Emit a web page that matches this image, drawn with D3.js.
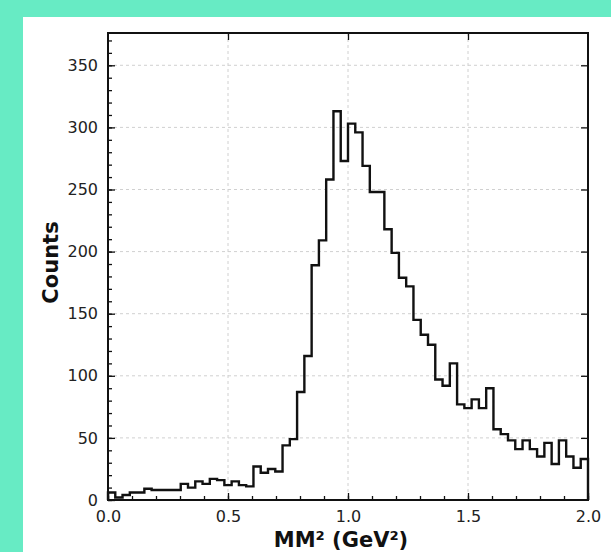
<!DOCTYPE html>
<html><head><meta charset="utf-8">
<script src="https://cdn.jsdelivr.net/npm/d3@7"></script>
<style>html,body{margin:0;padding:0;background:#67EBC4;} svg{display:block}</style>
</head><body>
<svg id="c" width="611" height="552"></svg>
<script>
// Histogram counts per bin (66 equal bins from 0 to 2 GeV^2)
const counts = [6,2,4,6,6,9,8,8,8,8,13,10,15,13,17,16,12,15,12,11,
                27,22,25,23,44,49,87,116,189,209,258,313,273,303,296,269,248,248,218,199,
                179,172,145,133,125,97,92,110,77,74,81,74,90,57,53,48,41,48,41,35,
                46,29,48,35,26,33];
const xDomain = [0, 2];
const yDomain = [0, 376];
const binCount = 66;
const xTicks = [0, 0.5, 1.0, 1.5, 2.0];
const xMinorTicks = d3.range(0, 21).map(i => i / 10);
const yTicks = [0, 50, 100, 150, 200, 250, 300, 350];
const yMinorTicks = d3.range(0, 371, 10);
const xLabel = "MM\u00B2 (GeV\u00B2)";
const yLabel = "Counts";

const svg = d3.select("#c");
// white panel
svg.append("rect").attr("x", 23).attr("y", 17).attr("width", 611 - 23).attr("height", 552 - 17).attr("fill", "#fff");

const L = 108, R = 588, T = 33, B = 500;
const x = d3.scaleLinear().domain(xDomain).range([L, R]);
const y = d3.scaleLinear().domain(yDomain).range([B, T]);

// grid
const grid = svg.append("g").attr("stroke", "#d0d0d0").attr("stroke-width", 1).attr("stroke-dasharray", "3,3");
xTicks.slice(1, -1).forEach(t => grid.append("line").attr("x1", x(t)).attr("x2", x(t)).attr("y1", T).attr("y2", B));
yTicks.slice(1).forEach(t => grid.append("line").attr("x1", L).attr("x2", R).attr("y1", y(t)).attr("y2", y(t)));

// histogram step line
const w = (xDomain[1] - xDomain[0]) / binCount;
const pts = [[xDomain[0], 0]];
counts.forEach((c, i) => pts.push([xDomain[0] + i * w, c]));
pts.push([xDomain[1], counts[counts.length - 1]]);
pts.push([xDomain[1], 0]);
const line = d3.line().x(d => x(d[0])).y(d => y(d[1])).curve(d3.curveStepAfter);
svg.append("path").attr("d", line(pts)).attr("fill", "none").attr("stroke", "#111").attr("stroke-width", 2.4).attr("stroke-linejoin", "miter");

// axes with inward ticks
const font = "DejaVu Sans, sans-serif";
function styleAxis(g) {
  g.select(".domain").remove();
  g.selectAll(".tick line").attr("stroke", "#111").attr("stroke-width", 1.3);
  g.selectAll(".tick text").attr("font-family", font).attr("font-size", 16).attr("fill", "#222");
}
// bottom minor
svg.append("g").attr("transform", `translate(0,${B})`)
  .call(d3.axisBottom(x).tickValues(xMinorTicks).tickSizeInner(-4).tickSizeOuter(0).tickFormat(""))
  .call(styleAxis);
// bottom major
svg.append("g").attr("transform", `translate(0,${B})`)
  .call(d3.axisBottom(x).tickValues(xTicks).tickSizeInner(-7).tickSizeOuter(0).tickPadding(11).tickFormat(d3.format(".1f")))
  .call(styleAxis);
// left minor
svg.append("g").attr("transform", `translate(${L},0)`)
  .call(d3.axisLeft(y).tickValues(yMinorTicks).tickSizeInner(-4).tickSizeOuter(0).tickFormat(""))
  .call(styleAxis);
// left major
svg.append("g").attr("transform", `translate(${L},0)`)
  .call(d3.axisLeft(y).tickValues(yTicks).tickSizeInner(-7).tickSizeOuter(0).tickPadding(10).tickFormat(d3.format("d")))
  .call(styleAxis);
// top major
svg.append("g").attr("transform", `translate(0,${T})`)
  .call(d3.axisTop(x).tickValues(xTicks.slice(1, -1)).tickSizeInner(-7).tickSizeOuter(0).tickFormat(""))
  .call(styleAxis);
// right major
svg.append("g").attr("transform", `translate(${R},0)`)
  .call(d3.axisRight(y).tickValues(yTicks.slice(1)).tickSizeInner(-7).tickSizeOuter(0).tickFormat(""))
  .call(styleAxis);

// frame
svg.append("rect").attr("x", L).attr("y", T).attr("width", R - L).attr("height", B - T)
  .attr("fill", "none").attr("stroke", "#111").attr("stroke-width", 2);

// axis labels
svg.append("text").attr("x", (L + R) / 2 - 7).attr("y", 547).attr("text-anchor", "middle")
  .attr("font-family", font).attr("font-weight", "bold").attr("font-size", 21).attr("fill", "#111").text(xLabel);
svg.append("text").attr("transform", `translate(58,${(T + B) / 2 - 4}) rotate(-90)`).attr("text-anchor", "middle")
  .attr("font-family", font).attr("font-weight", "bold").attr("font-size", 21).attr("fill", "#111").text(yLabel);
</script>
</body></html>
